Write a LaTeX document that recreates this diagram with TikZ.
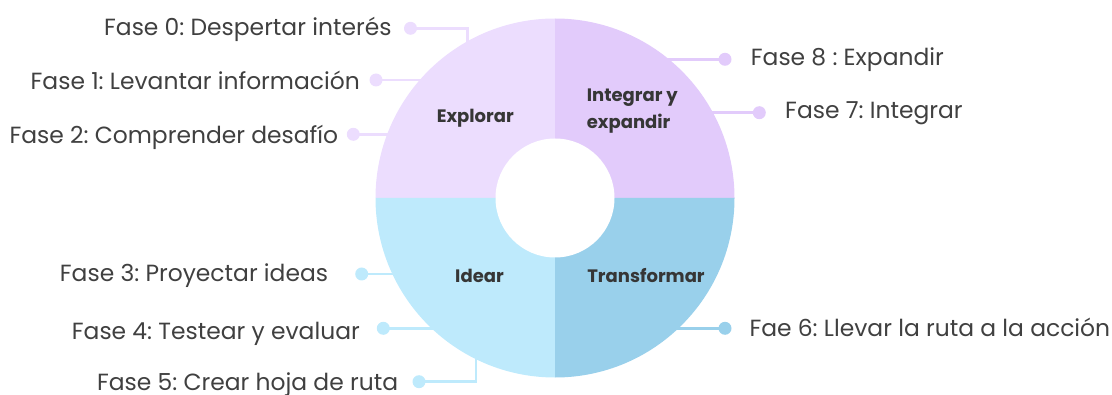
\documentclass[tikz,border=0pt]{standalone}
\usepackage{fontspec}
\setmainfont{Poppins}
\begin{document}
\frenchspacing
\definecolor{cExp}{HTML}{ECDDFE}
\definecolor{cInt}{HTML}{E2CBFB}
\definecolor{cIde}{HTML}{BEEAFC}
\definecolor{cTra}{HTML}{99D0EB}
\definecolor{cTxt}{HTML}{404040}
\definecolor{cBold}{HTML}{363636}
\begin{tikzpicture}[x=1pt,y=1pt,
  phase/.style={inner sep=0pt,text=cTxt,font=\fontsize{23.4}{26}\selectfont\frenchspacing},
  seglabel/.style={inner sep=0pt,text=cBold,font=\fontsize{18}{26.6}\selectfont\bfseries\frenchspacing},
  dotnode/.style={circle,inner sep=0pt,minimum size=13pt,fill=#1},
  conn/.style={draw=#1,line width=2.6pt}]
\useasboundingbox (0,0) rectangle (1112,394);
\coordinate (c) at (555,196);
% dots
\node[dotnode=cExp] (d0) at (410.5,365.7) {};
\node[dotnode=cExp] (d1) at (376,314) {};
\node[dotnode=cExp] (d2) at (353.3,259.7) {};
\node[dotnode=cInt] (d8) at (725,334.7) {};
\node[dotnode=cInt] (d7) at (759.3,281.3) {};
\node[dotnode=cIde] (d3) at (361.7,120) {};
\node[dotnode=cIde] (d4) at (383.3,65.7) {};
\node[dotnode=cIde] (d5) at (419,12.3) {};
\node[dotnode=cTra] (d6) at (725,65.7) {};
% connector ends inside the ring
\coordinate (e0) at (467.7,345);
\coordinate (e1) at (425,314);
\coordinate (e2) at (392,259.7);
\coordinate (e8) at (664,334.7);
\coordinate (e7) at (708,281.3);
\coordinate (e3) at (397,120);
\coordinate (e4) at (436,65.7);
\coordinate (e5) at (476,45);
\coordinate (e6) at (674,65.7);
% connectors
\draw[conn=cExp] (d0.center) -| (e0);
\draw[conn=cExp] (d1.center) -- (e1);
\draw[conn=cExp] (d2.center) -- (e2);
\draw[conn=cInt] (d8.center) -- (e8);
\draw[conn=cInt] (d7.center) -- (e7);
\draw[conn=cIde] (d3.center) -- (e3);
\draw[conn=cIde] (d4.center) -- (e4);
\draw[conn=cIde] (d5.center) -| (e5);
\draw[conn=cTra] (d6.center) -- (e6);
% donut
\fill[cExp] (c) -- ++(90:179.5pt) arc[start angle=90,end angle=180,radius=179.5pt] -- cycle;
\fill[cInt] (c) -- ++(0:179.5pt) arc[start angle=0,end angle=90,radius=179.5pt] -- cycle;
\fill[cIde] (c) -- ++(180:179.5pt) arc[start angle=180,end angle=270,radius=179.5pt] -- cycle;
\fill[cTra] (c) -- ++(270:179.5pt) arc[start angle=270,end angle=360,radius=179.5pt] -- cycle;
\fill[white] (c) circle[radius=59.5pt];
% segment labels
\node[seglabel,anchor=base] (sExp) at (475.3,271.3) {Explorar};
\node[seglabel,anchor=base west,align=left] (sInt) at (586.7,265.7) {Integrar y\\expandir};
\node[seglabel,anchor=base] (sIde) at (479.5,111.7) {Idear};
\node[seglabel,anchor=base] (sTra) at (646,111.7) {Transformar};
% phase labels
\node[phase,anchor=base east] (l0) at (391.7,358.3) {Fase 0: Despertar interés};
\node[phase,anchor=base east] (l1) at (360,304.5) {Fase 1: Levantar información};
\node[phase,anchor=base east] (l2) at (338.3,250) {Fase 2: Comprender desafío};
\node[phase,anchor=base east] (l3) at (328.3,112.3) {Fase 3: Proyectar ideas};
\node[phase,anchor=base east] (l4) at (360,55) {Fase 4: Testear y evaluar};
\node[phase,anchor=base east] (l5) at (398.3,3.5) {Fase 5: Crear hoja de ruta};
\node[phase,anchor=base west] (l8) at (750.7,328.3) {Fase 8 : Expandir};
\node[phase,anchor=base west] (l7) at (785,275.7) {Fase 7: Integrar};
\node[phase,anchor=base west] (l6) at (749.3,57.3) {Fae 6: Llevar la ruta a la acción};
\end{tikzpicture}
\end{document}
